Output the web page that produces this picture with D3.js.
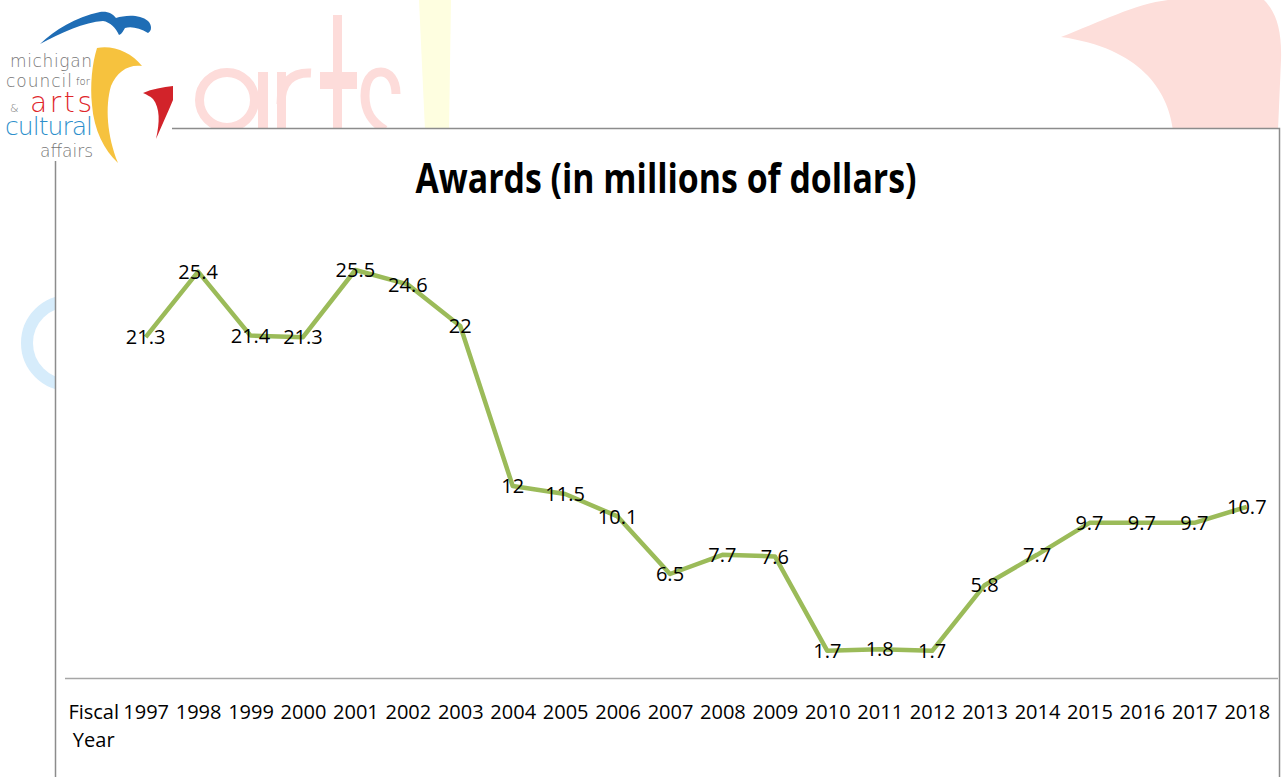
<!DOCTYPE html>
<meta charset="utf-8">
<style>
body { margin: 0; background: #fff; }
svg { display: block; }
.label { font-family: "Open Sans", sans-serif; font-size: 20px; fill: #000; }
.axis text { font-family: "Open Sans", sans-serif; font-size: 20px; fill: #000; }
.axis path { stroke: #a6a6a6; stroke-width: 1.5px; }
.title { font-family: "Open Sans", sans-serif; font-weight: bold; font-size: 41px; }
.logo text { font-family: "DejaVu Sans", sans-serif; font-weight: 200; }
</style>
<svg width="1284" height="777"></svg>
<script src="https://d3js.org/d3.v7.min.js"></script>
<script>

var categories = ["Fiscal Year", "1997", "1998", "1999", "2000", "2001", "2002", "2003",
  "2004", "2005", "2006", "2007", "2008", "2009", "2010", "2011", "2012", "2013",
  "2014", "2015", "2016", "2017", "2018"];
var years = categories.slice(1);
var awards = [21.3, 25.4, 21.4, 21.3, 25.5, 24.6, 22, 12, 11.5, 10.1, 6.5,
  7.7, 7.6, 1.7, 1.8, 1.7, 5.8, 7.7, 9.7, 9.7, 9.7, 10.7];
var yDomain = [0, 30];

var svg = d3.select("svg");

// faded logo shapes in the background, mostly hidden under the chart box
var bg = svg.append("g").attr("class", "watermark");
var pink = "#fddcda";
bg.append("circle").attr("cx", 227).attr("cy", 100).attr("r", 27.5)
  .attr("fill", "none").attr("stroke", pink).attr("stroke-width", 9);
bg.append("rect").attr("x", 258).attr("y", 72).attr("width", 10).attr("height", 70).attr("fill", pink);
bg.append("rect").attr("x", 277).attr("y", 72).attr("width", 9).attr("height", 70).attr("fill", pink);
bg.append("path").attr("d", "M281,104 C281,82 292,72 311,73")
  .attr("fill", "none").attr("stroke", pink).attr("stroke-width", 9);
bg.append("rect").attr("x", 333).attr("y", 15).attr("width", 9).attr("height", 125).attr("fill", pink);
bg.append("rect").attr("x", 320).attr("y", 72).attr("width", 37).attr("height", 17).attr("fill", pink);
bg.append("path").attr("d", "M396,94 C396,80 389,72 381,72 C370,72 365,82 365,96 C365,112 372,122 385,130")
  .attr("fill", "none").attr("stroke", pink).attr("stroke-width", 9);
bg.append("path").attr("d", "M419,0 L451,0 L449,130 L425,130 Z").attr("fill", "#fefee0");
bg.append("path")
  .attr("d", "M1061,37 C1100,22 1135,4 1168,0 L1264,0 C1276,12 1282,30 1281,60 L1278,130 L1173,130 C1168,90 1140,48 1061,37 Z")
  .attr("fill", "#fddeda");
bg.append("circle").attr("cx", 69).attr("cy", 343).attr("r", 42)
  .attr("fill", "none").attr("stroke", "#d6ecfb").attr("stroke-width", 12);

// chart box
svg.append("rect")
  .attr("x", 55.5).attr("y", 128.5).attr("width", 1224).attr("height", 700)
  .attr("fill", "#fff").attr("stroke", "#8c8c8c").attr("stroke-width", 1.5);

// logo
var logo = svg.append("g").attr("class", "logo");
logo.append("rect").attr("width", 172).attr("height", 161).attr("fill", "#fff");
logo.append("path")
  .attr("d", "M40,44 C55,30 75,17 100,12 C108,11 113,14 116,18 C125,15 140,14 148,21 C152,25 152,31 148,33 C140,28 131,26 125,28 C123,31 122,34 119,35 C116,28 110,22 103,21 C85,22 60,33 40,44 Z")
  .attr("fill", "#1f6db5");
logo.append("path")
  .attr("d", "M97,48 C113,45 131,52 142,66 C128,64 117,72 111,86 C105,106 107,136 118,163 C104,150 94,130 92,105 C90,85 92,64 97,48 Z")
  .attr("fill", "#f6c23e");
logo.append("path")
  .attr("d", "M143,93 C152,89 163,87 173,86 L173,100 C168,112 162,125 156,139 C160,122 160,108 153,99 C150,96 147,95 143,93 Z")
  .attr("fill", "#d2232a");
logo.append("text").attr("x", 10).attr("y", 67).attr("font-size", 17)
  .attr("textLength", 82).attr("fill", "#777").text("michigan");
logo.append("text").attr("x", 6).attr("y", 87).attr("font-size", 17)
  .attr("textLength", 66).attr("fill", "#777").text("council");
logo.append("text").attr("x", 76).attr("y", 85).attr("font-size", 10)
  .attr("font-weight", "bold").attr("fill", "#555").text("for");
logo.append("text").attr("x", 10).attr("y", 112).attr("font-size", 11)
  .attr("fill", "#777").text("&");
logo.append("text").attr("x", 30).attr("y", 112).attr("font-size", 28)
  .attr("font-weight", "normal").attr("textLength", 62).attr("fill", "#e0262b").text("arts");
logo.append("text").attr("x", 5).attr("y", 135).attr("font-size", 25)
  .attr("textLength", 88).attr("fill", "#2d8fcb").text("cultural");
logo.append("text").attr("x", 40).attr("y", 157).attr("font-size", 17)
  .attr("textLength", 53).attr("fill", "#777").text("affairs");

// scales
var x = d3.scalePoint().domain(categories).range([67, 1273]).padding(0.5);
var y = d3.scaleLinear().domain(yDomain).range([678, 198]);

svg.append("text").attr("class", "title")
  .attr("x", 666).attr("y", 193).attr("text-anchor", "middle")
  .attr("textLength", 501).attr("lengthAdjust", "spacingAndGlyphs")
  .text("Awards (in millions of dollars)");

// category axis
var axis = svg.append("g").attr("class", "axis")
  .attr("transform", "translate(0," + y(0) + ")")
  .call(d3.axisBottom(x).tickSize(0).tickPadding(27));
axis.select(".domain").attr("d", "M65,0.5H1278");
axis.selectAll(".tick text").each(function(d) {
  var words = d.split(" ");
  if (words.length < 2) return;
  var t = d3.select(this).text(null);
  t.append("tspan").attr("x", 0).attr("dy", "0.71em").text(words[0]);
  t.append("tspan").attr("x", 0).attr("dy", "1.4em").text(words[1]);
}).attr("dy", null);
axis.selectAll(".tick text").filter(function(d) { return d.indexOf(" ") < 0; })
  .attr("dy", "0.71em");

// line
var line = d3.line()
  .x(function(d, i) { return x(years[i]); })
  .y(function(d) { return y(d); });

svg.append("path")
  .datum(awards)
  .attr("fill", "none")
  .attr("stroke", "#9bbb59")
  .attr("stroke-width", 4.5)
  .attr("stroke-linejoin", "round")
  .attr("d", line);

svg.append("g").selectAll("text")
  .data(awards)
  .enter().append("text")
  .attr("class", "label")
  .attr("x", function(d, i) { return x(years[i]); })
  .attr("y", function(d) { return y(d); })
  .attr("dy", "0.36em")
  .attr("text-anchor", "middle")
  .text(function(d) { return String(d); });

</script>
